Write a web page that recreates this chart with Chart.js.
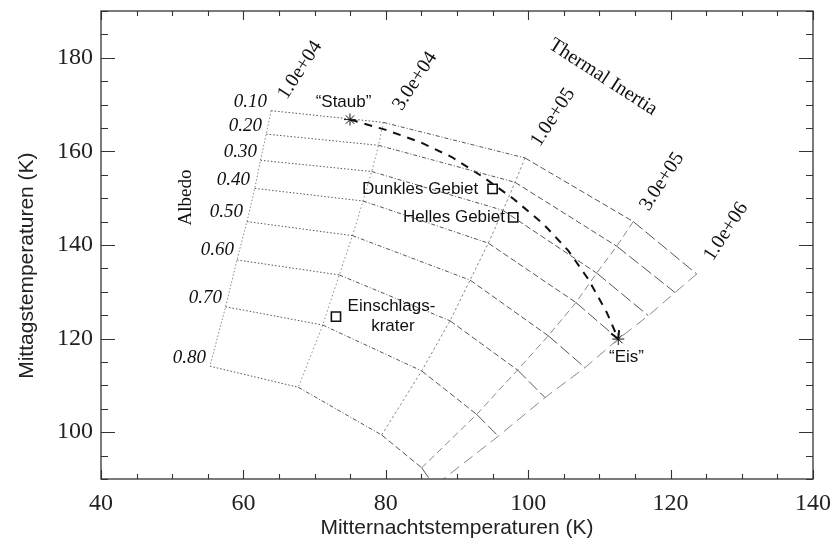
<!DOCTYPE html>
<html>
<head>
<meta charset="utf-8">
<script src="https://cdn.jsdelivr.net/npm/chart.js@4.4.1/dist/chart.umd.min.js"></script>
<style>
html, body { margin: 0; padding: 0; background: #fff; }
#wrap { width: 835px; height: 548px; }
</style>
</head>
<body>
<div id="wrap"><canvas id="chart" width="835" height="548"></canvas></div>
<script>
// axis ticks
const xTicks = [40, 60, 80, 100, 120, 140];
const yTicks = [100, 120, 140, 160, 180];

// model grid: one row per thermal inertia, one column per albedo
const albedos = ['0.10', '0.20', '0.30', '0.40', '0.50', '0.60', '0.70', '0.80'];
const inertias = ['1.0e+04', '3.0e+04', '1.0e+05', '3.0e+05', '1.0e+06'];
const nightTemp = [
    [63.9, 63.2, 62.4, 61.6, 60.5, 59.1, 57.5, 55.3],
    [79.65, 78.98, 78.02, 76.8, 75.32, 73.47, 71.14, 67.71],
    [99.55, 98.15, 96.46, 94.4, 91.83, 89.02, 85.04, 79.42],
    [114.76, 112.43, 109.62, 106.71, 102.82, 98.5, 92.77, 85.04],
    [123.67, 120.62, 116.87, 112.65, 107.98, 102.36, 95.8, 86.83]
];
const dayTemp = [
    [168.7, 163.7, 158.1, 152.1, 145.0, 136.8, 126.8, 114.1],
    [166.2, 161.3, 155.7, 149.4, 142.0, 133.6, 122.9, 109.6],
    [158.6, 153.4, 147.4, 140.4, 132.5, 123.8, 113.1, 99.4],
    [145.0, 139.75, 134.0, 127.7, 120.6, 113.3, 103.8, 92.4],
    [133.8, 129.85, 124.9, 119.9, 113.8, 107.4, 99.15, 88.5]
];

// "Staub" -> "Eis" path
const pathNight = [74.97, 79.89, 84.8, 89.26, 93.69, 97.91, 102.12, 105.63, 108.44, 111.03, 112.65];
const pathDay = [166.8, 164.65, 162.0, 158.8, 154.5, 149.9, 144.5, 138.8, 132.7, 125.6, 119.9];

// end members (asterisks) and measured sites (squares)
const endNight = [74.97, 112.65];
const endDay = [166.8, 119.9];
const siteNames = ['Dunkles Gebiet', 'Helles Gebiet', 'Einschlagskrater'];
const siteNight = [95.0, 97.9, 73.0];
const siteDay = [152.0, 145.9, 124.7];

const serif = "'Liberation Serif', 'Times New Roman', serif";
const sans = "'Liberation Sans', Arial, sans-serif";

// dash styles, getting longer with thermal inertia
const albedoSegDash = [[1.5, 2], [4, 2, 1, 2], [6, 3], [12, 4]];
const inertiaDash = [[1.5, 2], [1.5, 2.5], [2.5, 2.5], [7, 4], [11, 6]];

const datasets = [];

albedos.forEach((a, i) => {
    datasets.push({
        label: 'A ' + a,
        data: inertias.map((t, j) => ({ x: nightTemp[j][i], y: dayTemp[j][i] })),
        showLine: true,
        borderColor: '#555',
        borderWidth: 1,
        pointRadius: 0,
        segment: {
            borderDash: ctx => albedoSegDash[ctx.p0DataIndex]
        }
    });
});

inertias.forEach((t, j) => {
    datasets.push({
        label: 'TI ' + t,
        data: albedos.map((a, i) => ({ x: nightTemp[j][i], y: dayTemp[j][i] })),
        showLine: true,
        borderColor: '#888',
        borderWidth: 1,
        borderDash: inertiaDash[j],
        pointRadius: 0
    });
});

const pathIndex = datasets.length;
datasets.push({
    label: 'path',
    data: pathNight.map((v, k) => ({ x: v, y: pathDay[k] })),
    showLine: true,
    borderColor: '#111',
    borderWidth: 2,
    borderDash: [8, 7],
    pointRadius: 0
});

datasets.push({
    label: 'ends',
    data: endNight.map((v, k) => ({ x: v, y: endDay[k] })),
    pointStyle: 'star',
    pointRadius: 6,
    borderColor: '#111',
    borderWidth: 1,
    backgroundColor: '#111'
});

datasets.push({
    label: 'sites',
    data: siteNight.map((v, k) => ({ x: v, y: siteDay[k] })),
    pointStyle: 'rect',
    pointRadius: 6.5,
    borderColor: '#111',
    borderWidth: 1.6,
    backgroundColor: 'rgba(255,255,255,0)'
});

// text annotations, placed in data coordinates
const notes = [
    { text: '“Staub”', x: 74.06, y: 170.57, font: '17px ' + sans, align: 'center' },
    { text: '“Eis”', x: 113.8, y: 116.08, font: '17px ' + sans, align: 'center' },
    { text: 'Dunkles Gebiet', x: 92.99, y: 152.0, font: '17px ' + sans, align: 'right' },
    { text: 'Helles Gebiet', x: 96.74, y: 145.93, font: '17px ' + sans, align: 'right' },
    { text: 'Einschlags-', x: 80.8, y: 127.0, font: '17px ' + sans, align: 'center' },
    { text: 'krater', x: 81.0, y: 122.72, font: '17px ' + sans, align: 'center' },
    { text: 'Albedo', x: 51.94, y: 150.14, font: '19px ' + serif, align: 'center', rot: -90 },
    { text: 'Thermal Inertia', x: 110.5, y: 175.86, font: '20px ' + serif, align: 'center', rot: 33 }
];
const albedoNoteX = [63.31, 62.61, 61.91, 60.93, 59.94, 58.68, 57.0, 54.75];
const albedoNoteY = [170.57, 165.42, 159.85, 153.79, 147.0, 138.94, 128.78, 115.93];
albedos.forEach((a, i) => {
    notes.push({ text: a, x: albedoNoteX[i], y: albedoNoteY[i], font: 'italic 19px ' + serif, align: 'right' });
});
const inertiaNoteX = [67.95, 84.1, 103.48, 118.79, 127.78];
const inertiaNoteY = [177.36, 175.0, 167.29, 153.57, 142.86];
inertias.forEach((t, j) => {
    notes.push({ text: t, x: inertiaNoteX[j], y: inertiaNoteY[j], font: '20px ' + serif, align: 'center', rot: -57 });
});

const notesPlugin = {
    id: 'notes',
    afterDatasetsDraw(chart) {
        const { ctx, scales: { x, y } } = chart;
        ctx.save();
        ctx.fillStyle = '#111';
        ctx.textBaseline = 'middle';
        notes.forEach(n => {
            ctx.save();
            ctx.translate(x.getPixelForValue(n.x), y.getPixelForValue(n.y));
            if (n.rot) ctx.rotate(n.rot * Math.PI / 180);
            ctx.font = n.font;
            ctx.textAlign = n.align;
            ctx.fillText(n.text, 0, 0);
            ctx.restore();
        });

        // arrow head at the "Eis" end of the path
        const pts = chart.getDatasetMeta(pathIndex).data;
        const p1 = pts[pts.length - 1], p0 = pts[pts.length - 2];
        const ang = Math.atan2(p1.y - p0.y, p1.x - p0.x);
        ctx.strokeStyle = '#111';
        ctx.lineWidth = 2;
        ctx.beginPath();
        ctx.moveTo(p1.x - 9 * Math.cos(ang - 0.5), p1.y - 9 * Math.sin(ang - 0.5));
        ctx.lineTo(p1.x, p1.y);
        ctx.lineTo(p1.x - 9 * Math.cos(ang + 0.5), p1.y - 9 * Math.sin(ang + 0.5));
        ctx.stroke();

        // y axis title, sits a bit below the middle of the axis
        ctx.save();
        ctx.translate(27, y.getPixelForValue(135.6));
        ctx.rotate(-Math.PI / 2);
        ctx.font = '21px ' + sans;
        ctx.textAlign = 'center';
        ctx.fillStyle = '#222';
        ctx.fillText('Mittagstemperaturen (K)', 0, 0);
        ctx.restore();
        ctx.restore();
    }
};

// box frame with inward ticks on all four sides
const framePlugin = {
    id: 'frame',
    afterDraw(chart) {
        const { ctx, chartArea: a, scales: { x, y } } = chart;
        ctx.save();
        ctx.strokeStyle = '#333';
        ctx.lineWidth = 1.3;
        ctx.strokeRect(a.left, a.top, a.right - a.left, a.bottom - a.top);
        ctx.lineWidth = 1.1;
        ctx.beginPath();
        for (let v = x.min; v <= x.max; v += 5) {
            const px = Math.round(x.getPixelForValue(v)) + 0.5;
            const len = v % 20 === 0 ? 9 : 5;
            ctx.moveTo(px, a.bottom); ctx.lineTo(px, a.bottom - len);
            ctx.moveTo(px, a.top); ctx.lineTo(px, a.top + len);
        }
        for (let v = y.min; v <= y.max; v += 5) {
            const py = Math.round(y.getPixelForValue(v)) + 0.5;
            const len = v % 20 === 0 ? 14 : 7;
            ctx.moveTo(a.left, py); ctx.lineTo(a.left + len, py);
            ctx.moveTo(a.right, py); ctx.lineTo(a.right - len, py);
        }
        ctx.stroke();
        ctx.restore();
    }
};

new Chart(document.getElementById('chart'), {
    type: 'scatter',
    data: { datasets },
    options: {
        responsive: false,
        animation: false,
        devicePixelRatio: 1,
        layout: { padding: { left: 0, right: 22, top: 11, bottom: 0 } },
        plugins: {
            legend: { display: false },
            tooltip: { enabled: false }
        },
        scales: {
            x: {
                type: 'linear',
                min: 40,
                max: 140,
                grid: { display: false, drawTicks: false },
                border: { display: false },
                afterBuildTicks: s => { s.ticks = xTicks.map(v => ({ value: v })); },
                afterFit: s => {
                    s.height = 69;
                    s.paddingLeft = 0;
                    s.paddingRight = 0;
                },
                ticks: {
                    padding: 10,
                    autoSkip: false,
                    maxRotation: 0,
                    color: '#222',
                    font: { family: serif, size: 24 }
                },
                title: {
                    display: true,
                    text: 'Mitternachtstemperaturen (K)',
                    color: '#222',
                    font: { family: sans, size: 21 },
                    padding: { top: 0, bottom: 7 }
                }
            },
            y: {
                type: 'linear',
                min: 90,
                max: 190,
                grid: { display: false, drawTicks: false },
                border: { display: false },
                afterBuildTicks: s => { s.ticks = yTicks.map(v => ({ value: v })); },
                afterFit: s => {
                    s.width = 101;
                    s.paddingTop = 0;
                    s.paddingBottom = 0;
                },
                ticks: {
                    padding: 8,
                    autoSkip: false,
                    color: '#222',
                    font: { family: serif, size: 24 }
                }
            }
        }
    },
    plugins: [notesPlugin, framePlugin]
});
</script>
</body>
</html>
